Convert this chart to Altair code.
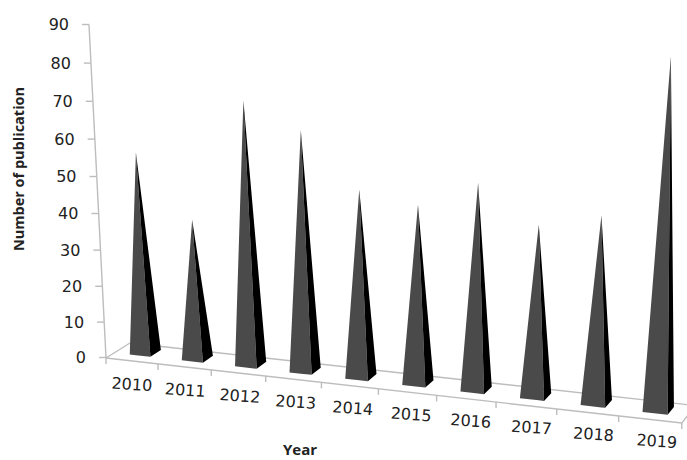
import altair as alt
import pandas as pd

years = [2010, 2011, 2012, 2013, 2014, 2015, 2016, 2017, 2018, 2019]
publications = [54, 37, 68, 61, 47, 44, 50, 41, 44, 80]
wall_ticks = [0, 10, 20, 30, 40, 50, 60, 70, 80, 90]

WIDTH, HEIGHT = 687, 460
AXIS_GREY = "#bdbdbd"
TEXT_COLOR = "#222222"


# Oblique perspective: column t runs along the floor, depth d runs from the
# front edge (0) to the back edge (1), and height rises in publication units.
def floor_point(t, d):
    run = 52 * t + 0.62 * t * (t - 1)
    return (106 + run + d * (24 - 1.03 * t), 358 + 0.113 * run - d * (15 + 0.25 * t))


def wall_height(v):
    return 3.52 * v + 0.002 * v * v


def lifted_point(t, d, v):
    x, y = floor_point(t, d)
    return x + 0.00065 * v * (x - 415), y - (1 + 0.02 * (t + 0.5)) * wall_height(v)


def wall_point(v):
    return 106 - 0.189 * v, 357.5 - wall_height(v)


# A triangle becomes a three-vertex area: sorted by x, with the long edge as baseline.
def triangle_rows(name, pts):
    a, b, c = sorted(pts)
    span = c[0] - a[0]
    mid = a[1] + (c[1] - a[1]) * (b[0] - a[0]) / span
    return [
        {"face": name, "x": a[0], "y": a[1], "y2": a[1]},
        {"face": name, "x": b[0], "y": b[1], "y2": mid},
        {"face": name, "x": c[0], "y": c[1], "y2": c[1]},
    ]


left_rows, right_rows, year_rows = [], [], []
for i, (year, count) in enumerate(zip(years, publications)):
    left = floor_point(i + 0.3, 0.35)
    front = floor_point(i + 0.7, 0.35)
    right = floor_point(i + 0.7, 0.8)
    tip = lifted_point(i + 0.5, 0.575, count)
    left_rows += triangle_rows(f"L{year}", [left, front, tip])
    right_rows += triangle_rows(f"R{year}", [front, right, tip])
    lx, ly = floor_point(i + 0.5, 0)
    year_rows.append({"x": lx + 0.75 * i, "y": ly + 24 - 0.2 * i, "label": str(year)})

line_rows = []


def add_line(name, p, q):
    line_rows.append({"seg": name, "order": 0, "x": p[0], "y": p[1]})
    line_rows.append({"seg": name, "order": 1, "x": q[0], "y": q[1]})


add_line("front", floor_point(0, 0), floor_point(10, 0))
add_line("back", floor_point(0, 1), floor_point(10, 1))
add_line("left", floor_point(0, 0), floor_point(0, 1))
add_line("right", floor_point(10, 0), floor_point(10, 1))
add_line("wall", wall_point(0), wall_point(90))
for t in range(11):
    fx, fy = floor_point(t, 0)
    add_line(f"xt{t}", (fx, fy), (fx, fy + 6))

wall_rows = []
for v in wall_ticks:
    wx, wy = wall_point(v)
    add_line(f"yt{v}", (wx - 7, wy), (wx, wy))
    wall_rows.append({"x": wx - 20, "y": wy + 0.5, "label": str(v)})

x_enc = alt.X("x:Q", scale=alt.Scale(domain=[0, WIDTH], nice=False, zero=False), axis=None)
y_enc = alt.Y("y:Q", scale=alt.Scale(domain=[HEIGHT, 0], nice=False, zero=False), axis=None)

axis_lines = alt.Chart(pd.DataFrame(line_rows)).mark_line(
    color=AXIS_GREY, strokeWidth=1.4, clip=True
).encode(x=x_enc, y=y_enc, detail="seg:N", order="order:Q")


def faces(rows, color):
    return alt.Chart(pd.DataFrame(rows)).mark_area(
        color=color, interpolate="linear", orient="vertical", line=False
    ).encode(x=x_enc, y=y_enc, y2="y2:Q", detail="face:N")


left_faces = faces(left_rows, "#4a4a4a")
right_faces = faces(right_rows, "#000000")

year_labels = alt.Chart(pd.DataFrame(year_rows)).mark_text(
    font="DejaVu Sans", fontSize=16, angle=4, align="center", baseline="middle", color=TEXT_COLOR
).encode(x=x_enc, y=y_enc, text="label:N")

wall_labels = alt.Chart(pd.DataFrame(wall_rows)).mark_text(
    font="DejaVu Sans", fontSize=16, align="right", baseline="middle", color=TEXT_COLOR
).encode(x=x_enc, y=y_enc, text="label:N")

x_title = alt.Chart(pd.DataFrame([{"x": 300, "y": 450, "label": "Year"}])).mark_text(
    font="Open Sans", fontWeight="bold", fontSize=15, align="center", baseline="middle", color=TEXT_COLOR
).encode(x=x_enc, y=y_enc, text="label:N")

y_title = alt.Chart(pd.DataFrame([{"x": 20, "y": 169, "label": "Number of publication"}])).mark_text(
    font="Open Sans", fontWeight="bold", fontSize=14.5, angle=270, align="center", baseline="middle", color=TEXT_COLOR
).encode(x=x_enc, y=y_enc, text="label:N")

chart = alt.layer(
    axis_lines, left_faces, right_faces, year_labels, wall_labels, x_title, y_title
).properties(
    width=WIDTH, height=HEIGHT, padding=0, autosize=alt.AutoSizeParams(type="none"), background="white"
).configure_view(stroke=None)

chart.save("out.html", embed_options={"renderer": "svg", "actions": False})
